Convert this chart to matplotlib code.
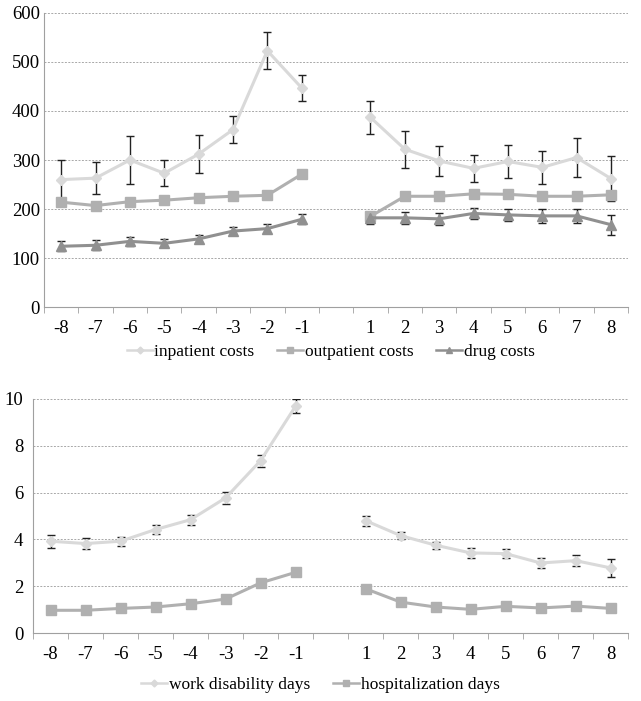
import numpy as np
import matplotlib.pyplot as plt
from matplotlib.lines import Line2D

# categories: 8 quarters before, gap, 8 quarters after
labels = ['-8', '-7', '-6', '-5', '-4', '-3', '-2', '-1', '', '1', '2', '3', '4', '5', '6', '7', '8']

inpatient = [260, 263, 300, 273, 312, 362, 523, 447, None, 387, 322, 298, 283, 297, 285, 305, 262]
inpatient_err = [39, 33, 49, 27, 39, 27, 38, 27, None, 34, 38, 31, 28, 33, 33, 39, 46]
outpatient = [214, 207, 215, 218, 223, 226, 228, 271, None, 185, 226, 226, 231, 230, 226, 226, 229]
outpatient_err = [5, 4, 4, 4, 4, 4, 4, 5, None, 8, 5, 5, 5, 5, 5, 5, 8]
drug = [124, 126, 134, 130, 139, 155, 160, 179, None, 182, 182, 180, 191, 188, 186, 186, 168]
drug_err = [10, 10, 9, 8, 9, 9, 9, 10, None, 12, 12, 12, 12, 12, 14, 14, 20]

work_days = [3.92, 3.82, 3.92, 4.42, 4.84, 5.77, 7.36, 9.69, None, 4.80, 4.16, 3.75, 3.42, 3.39, 2.99, 3.09, 2.78]
work_err = [0.27, 0.23, 0.20, 0.20, 0.22, 0.24, 0.25, 0.30, None, 0.21, 0.15, 0.15, 0.20, 0.20, 0.22, 0.24, 0.38]
hosp_days = [0.97, 0.97, 1.05, 1.11, 1.25, 1.45, 2.14, 2.59, None, 1.89, 1.32, 1.11, 1.01, 1.14, 1.07, 1.15, 1.05]
hosp_err = [0.05, 0.05, 0.05, 0.05, 0.05, 0.05, 0.06, 0.07, None, 0.06, 0.05, 0.05, 0.05, 0.05, 0.05, 0.08, 0.1]

plt.rcParams['font.family'] = ['Liberation Serif', 'DejaVu Serif']
plt.rcParams['font.size'] = 13.5

C_IN = '#d9d9d9'
C_OUT = '#b0b0b0'
C_DRUG = '#909090'
x = np.arange(len(labels))


def seg(vals, errs):
    v = np.array([np.nan if a is None else a for a in vals], dtype=float)
    e = np.array([np.nan if a is None else a for a in errs], dtype=float)
    return v, e


def draw(ax, vals, errs, color, marker, ms):
    v, e = seg(vals, errs)
    ax.errorbar(x, v, yerr=e, fmt='none', ecolor='#222222', elinewidth=1, capsize=3, capthick=1, zorder=2)
    ax.plot(x, v, color=color, lw=2.2, marker=marker, ms=ms, mec=color, mfc=color, zorder=3)


def style(ax, ymax, step, ypad):
    ax.set_xlim(-0.5, 16.5)
    ax.set_ylim(0, ymax)
    ax.set_yticks(np.arange(0, ymax + step / 2, step))
    ax.set_xticks(x)
    ax.set_xticklabels(labels)
    ax.set_xticks(np.arange(-0.5, 17, 1), minor=True)
    ax.tick_params(axis='x', which='major', length=0, pad=9)
    ax.tick_params(axis='x', which='minor', length=4, color='#a0a0a0', direction='out')
    ax.tick_params(axis='y', length=0, pad=ypad)
    for s in ['top', 'right']:
        ax.spines[s].set_visible(False)
    for s in ['left', 'bottom']:
        ax.spines[s].set_color('#a0a0a0')
    ax.yaxis.grid(True, linestyle=(0, (2, 1.5)), color='#a8a8a8', lw=0.7)
    ax.set_axisbelow(True)


def handle(color, marker, ms):
    return Line2D([], [], color=color, lw=1.8, marker=marker, ms=ms)


fig = plt.figure(figsize=(6.41, 7.01), dpi=100)

ax1 = fig.add_axes([0.0686, 0.562, 0.9114, 0.4195])
draw(ax1, inpatient, inpatient_err, C_IN, 'D', 5)
draw(ax1, outpatient, outpatient_err, C_OUT, 's', 7)
draw(ax1, drug, drug_err, C_DRUG, '^', 7)
style(ax1, 600, 100, 3)
h1 = [handle(C_IN, 'D', 3.5), handle(C_OUT, 's', 4.5), handle(C_DRUG, '^', 4.5)]
fig.legend(h1, ['inpatient costs', 'outpatient costs', 'drug costs'], loc='center',
           bbox_to_anchor=(0.516, 0.498), ncol=3, frameon=False, handlelength=1.5,
           handletextpad=0.1, columnspacing=1.3, fontsize=12.5)

ax2 = fig.add_axes([0.0515, 0.097, 0.9285, 0.334])
draw(ax2, work_days, work_err, C_IN, 'D', 5)
draw(ax2, hosp_days, hosp_err, C_OUT, 's', 7)
style(ax2, 10, 2, 7)
h2 = [handle(C_IN, 'D', 3.5), handle(C_OUT, 's', 4.5)]
fig.legend(h2, ['work disability days', 'hospitalization days'], loc='center',
           bbox_to_anchor=(0.5, 0.023), ncol=2, frameon=False, handlelength=1.5,
           handletextpad=0.1, columnspacing=1.3, fontsize=12.5)

fig.savefig('out.png', dpi=100)
